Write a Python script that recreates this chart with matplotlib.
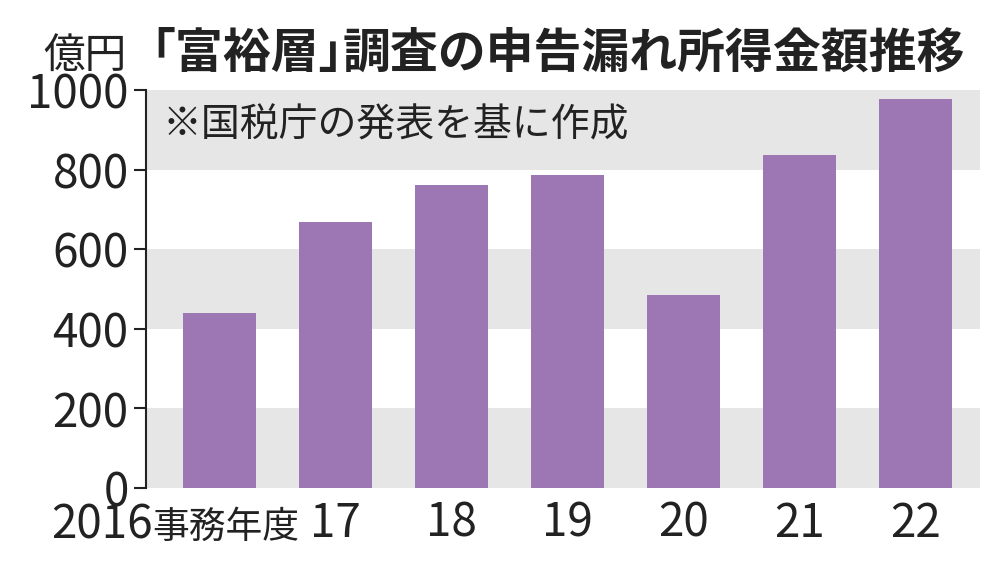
import matplotlib
matplotlib.use("Agg")
import matplotlib.pyplot as plt

plt.rcParams['font.family'] = ['Noto Sans CJK JP', 'DejaVu Sans']
INK = '#222222'

# data (億円)
years = ['2016', '17', '18', '19', '20', '21', '22']
amounts = [440, 668, 761, 786, 484, 836, 977]
yticks = [0, 200, 400, 600, 800, 1000]

fig = plt.figure(figsize=(10, 5.66), dpi=100)
ax = fig.add_axes([0.146, 0.138, 0.834, 0.703])

# alternating grey bands
for lo in range(0, 1000, 400):
    ax.axhspan(lo, lo + 200, color='#e6e6e6', zorder=0, lw=0)

x = list(range(len(years)))
ax.bar(x, amounts, width=0.63, color='#9c77b4', zorder=2)

ax.set_xlim(-0.634, 6.56)
ax.set_ylim(0, 1000)
ax.set_yticks(yticks)
ax.set_yticklabels([str(v) for v in yticks], fontsize=33, color=INK)
ax.tick_params(axis='y', length=9, width=1.5, pad=3.5, color=INK)

ax.set_xticks(x[1:])
ax.set_xticklabels(years[1:], fontsize=33, color=INK)
ax.tick_params(axis='x', length=0, pad=8)

# first category label: "2016事務年度", right-aligned just before the "17" label
xax = ax.get_xaxis_transform()
t_unit = ax.text(0.69, -0.126, '事務年度', transform=xax,
                 ha='right', va='baseline', fontsize=26.5, color=INK)
ax.annotate(years[0], xy=(0, -0.126), xycoords=(t_unit, xax),
            ha='right', va='baseline', fontsize=33, color=INK)

for s in ['top', 'right', 'bottom']:
    ax.spines[s].set_visible(False)
ax.spines['left'].set_linewidth(1.5)
ax.spines['left'].set_color(INK)

ax.text(0.02, 0.96, '※国税庁の発表を基に作成', transform=ax.transAxes,
        ha='left', va='top', fontsize=28, color=INK)

# title
fig.text(0.043, 0.88, '億円', fontsize=30, ha='left', va='baseline', color=INK)
t1 = fig.text(0.127, 0.88, '「富裕層」', fontsize=34.5, fontweight='bold',
              ha='left', va='baseline', color=INK)
ax.annotate('調査の申告漏れ所得金額推移', xy=(1, 0), xycoords=t1,
            xytext=(-17, 0), textcoords='offset points', ha='left', va='bottom',
            fontsize=34.5, fontweight='bold', color=INK, annotation_clip=False)

fig.savefig('out.png', dpi=100)
